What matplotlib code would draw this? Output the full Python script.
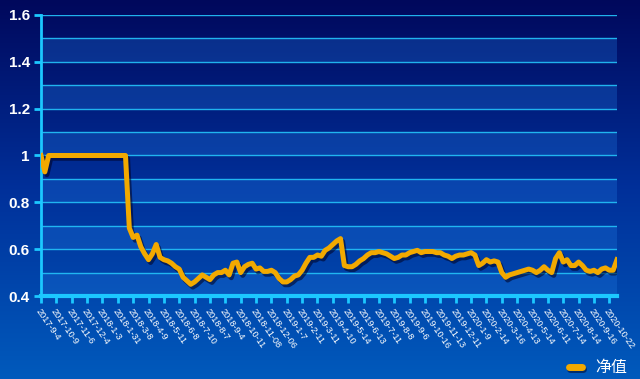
import numpy as np
import matplotlib
matplotlib.use("Agg")
import matplotlib.pyplot as plt
import matplotlib.patheffects as pe
from matplotlib.lines import Line2D

# weekly samples of the net value (every 5 trading days)
nav = [
	1.00, 0.93, 1.00, 1.00, 1.00, 1.00, 1.00, 1.00, 1.00, 1.00,
	1.00, 1.00, 1.00, 1.00, 1.00, 1.00, 1.00, 1.00, 1.00, 1.00,
	1.00, 1.00, 1.00, 0.69, 0.65, 0.66, 0.61, 0.58, 0.555, 0.58,
	0.62, 0.565, 0.555, 0.55, 0.54, 0.525, 0.515, 0.48, 0.465, 0.45,
	0.46, 0.475, 0.49, 0.48, 0.47, 0.49, 0.50, 0.50, 0.51, 0.49,
	0.54, 0.545, 0.50, 0.525, 0.535, 0.54, 0.515, 0.52, 0.505, 0.505,
	0.51, 0.50, 0.475, 0.46, 0.46, 0.47, 0.485, 0.49, 0.51, 0.54,
	0.565, 0.565, 0.575, 0.57, 0.595, 0.605, 0.62, 0.635, 0.645, 0.53,
	0.525, 0.525, 0.535, 0.55, 0.56, 0.575, 0.585, 0.585, 0.59, 0.585,
	0.58, 0.57, 0.56, 0.565, 0.575, 0.575, 0.585, 0.59, 0.595, 0.585,
	0.59, 0.59, 0.59, 0.585, 0.585, 0.575, 0.57, 0.56, 0.57, 0.575,
	0.575, 0.58, 0.585, 0.575, 0.53, 0.54, 0.555, 0.545, 0.55, 0.545,
	0.50, 0.48, 0.49, 0.495, 0.50, 0.505, 0.51, 0.515, 0.51, 0.50,
	0.51, 0.525, 0.51, 0.50, 0.56, 0.585, 0.545, 0.555, 0.53, 0.53,
	0.545, 0.53, 0.51, 0.505, 0.51, 0.50, 0.515, 0.52, 0.51, 0.51,
	0.555,
]

date_labels = [
	"2017-9-4", "2017-10-9", "2017-11-6", "2017-12-4", "2018-1-3", "2018-1-31",
	"2018-3-8", "2018-4-9", "2018-5-11", "2018-6-8", "2018-7-10", "2018-8-7",
	"2018-9-4", "2018-10-11", "2018-11-08", "2018-12-06", "2019-1-7", "2019-2-11",
	"2019-3-11", "2019-4-10", "2019-5-14", "2019-6-13", "2019-7-11", "2019-8-8",
	"2019-9-6", "2019-10-16", "2019-11-13", "2019-12-11", "2020-1-9", "2020-2-14",
	"2020-3-16", "2020-4-13", "2020-5-14", "2020-6-11", "2020-7-14", "2020-8-14",
	"2020-9-16", "2020-10-22",
]

y_ticks = [0.4, 0.6, 0.8, 1.0, 1.2, 1.4, 1.6]
y_ticklabels = ["0.4", "0.6", "0.8", "1", "1.2", "1.4", "1.6"]

legend_label = "净值"

line_color = "#f2a900"
axis_color = "#1cc8ff"

fig = plt.figure(figsize = (6.4, 3.79), dpi = 100)

# background gradient over the whole figure
bg = fig.add_axes([0, 0, 1, 1], zorder = -10)
grad = np.linspace(0, 1, 256).reshape(-1, 1)
cmap = matplotlib.colors.LinearSegmentedColormap.from_list("bg", ["#00085c", "#00309a", "#005abc"])
bg.imshow(grad, aspect = "auto", cmap = cmap, extent = [0, 1, 0, 1], origin = "upper")
bg.axis("off")

ax = fig.add_axes([41 / 640, 83 / 379, 576 / 640, 281 / 379])
ax.patch.set_alpha(0)

x = np.arange(len(nav))

# alternating bands and grid lines
for k in range(12):
	lo = 0.4 + k * 0.1
	if (k % 2 == 0):
		ax.axhspan(lo, lo + 0.1, color = "#1f78e0", alpha = 0.3, lw = 0, zorder = 0)
	#end_if
#end_for
for k in range(1, 13):
	ax.axhline(0.4 + k * 0.1, color = "#22bcf5", lw = 1.0, alpha = 0.95, zorder = 1)
#end_for

ax.plot(x, nav, color = line_color, lw = 3.6, solid_joinstyle = "round", zorder = 3,
	path_effects = [pe.SimpleLineShadow(offset = (1.5, -2), shadow_color = "#000020", alpha = 0.55), pe.Normal()])

ax.set_xlim(0, len(nav) - 1)
ax.set_ylim(0.4, 1.6)

ax.set_yticks(y_ticks)
ax.set_yticklabels(y_ticklabels, color = "white", fontsize = 11, fontweight = "bold", family = "Liberation Sans")

tick_pos = np.arange(len(date_labels)) * 4
ax.set_xticks(tick_pos)
ax.set_xticklabels(date_labels, color = "white", fontsize = 6.6, family = "Liberation Sans",
	rotation = -55, ha = "left", va = "top", rotation_mode = "anchor")

ax.tick_params(axis = "y", length = 5, width = 2, color = axis_color, pad = 3)
ax.tick_params(axis = "x", length = 5, width = 2, color = axis_color, pad = 3)

for side in ["top", "right"]:
	ax.spines[side].set_visible(False)
#end_for
ax.spines["left"].set_color(axis_color)
ax.spines["left"].set_linewidth(2)
ax.spines["bottom"].set_color(axis_color)
ax.spines["bottom"].set_linewidth(3)

# legend at bottom right
ly = 1 - 367 / 379
fig.add_artist(Line2D([569 / 640, 582 / 640], [ly, ly], color = line_color, lw = 5, solid_capstyle = "round",
	path_effects = [pe.SimpleLineShadow(offset = (1, -1.5), shadow_color = "#000020", alpha = 0.5), pe.Normal()]))
fig.text(595 / 640, ly, legend_label, color = "white", fontsize = 11.5, va = "center", ha = "left",
	family = ["Noto Sans CJK SC", "DejaVu Sans"])

fig.savefig("out.png", dpi = 100)
